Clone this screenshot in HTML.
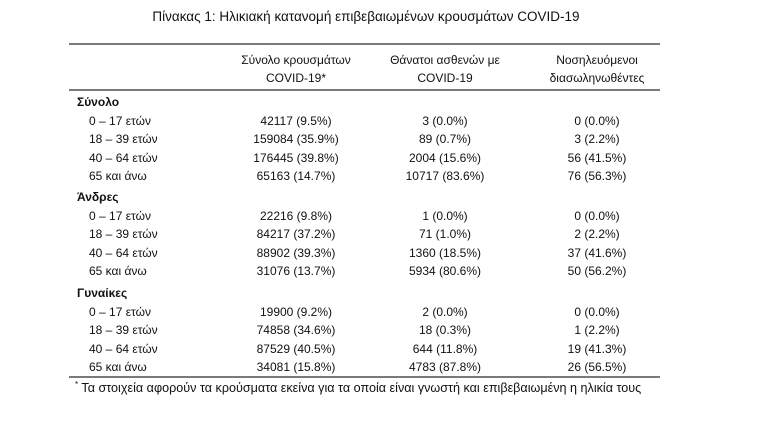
<!DOCTYPE html>
<html><head><meta charset="utf-8"><style>
body{margin:0;width:769px;height:423px;background:#fff;position:relative;overflow:hidden;font-family:"Liberation Sans","DejaVu Sans",sans-serif;color:#111;}
.t{position:absolute;white-space:nowrap;font-size:12px;line-height:14px;}
.c{transform:translateX(-50%);}
.b{font-weight:bold;}
.ln{position:absolute;left:69px;width:591px;height:2px;background:#7a7a7a;}
</style></head><body>
<div class="t c" style="left:366px;top:9px;font-size:13.5px;line-height:16px">Πίνακας 1: Ηλικιακή κατανομή επιβεβαιωμένων κρουσμάτων COVID-19</div>
<div class="ln" style="top:43px"></div>
<div class="ln" style="top:89px"></div>
<div class="ln" style="top:376px"></div>
<div class="t c" style="left:296px;top:51px;text-align:center;line-height:18px">Σύνολο κρουσμάτων<br>COVID-19*</div>
<div class="t c" style="left:445px;top:51px;text-align:center;line-height:18px">Θάνατοι ασθενών με<br>COVID-19</div>
<div class="t c" style="left:597px;top:51px;text-align:center;line-height:18px">Νοσηλευόμενοι<br>διασωληνωθέντες</div>
<div id="rows"></div>
<div class="t" style="left:75px;top:378px;font-size:12.6px"><sup style="font-size:8px">*</sup> Τα στοιχεία αφορούν τα κρούσματα εκείνα για τα οποία είναι γνωστή και επιβεβαιωμένη η ηλικία τους</div>
<script>
var d=[["Σύνολο",95,[["0 – 17 ετών","42117 (9.5%)","3 (0.0%)","0 (0.0%)"],["18 – 39 ετών","159084 (35.9%)","89 (0.7%)","3 (2.2%)"],["40 – 64 ετών","176445 (39.8%)","2004 (15.6%)","56 (41.5%)"],["65 και άνω","65163 (14.7%)","10717 (83.6%)","76 (56.3%)"]]],
["Άνδρες",190,[["0 – 17 ετών","22216 (9.8%)","1 (0.0%)","0 (0.0%)"],["18 – 39 ετών","84217 (37.2%)","71 (1.0%)","2 (2.2%)"],["40 – 64 ετών","88902 (39.3%)","1360 (18.5%)","37 (41.6%)"],["65 και άνω","31076 (13.7%)","5934 (80.6%)","50 (56.2%)"]]],
["Γυναίκες",286,[["0 – 17 ετών","19900 (9.2%)","2 (0.0%)","0 (0.0%)"],["18 – 39 ετών","74858 (34.6%)","18 (0.3%)","1 (2.2%)"],["40 – 64 ετών","87529 (40.5%)","644 (11.8%)","19 (41.3%)"],["65 και άνω","34081 (15.8%)","4783 (87.8%)","26 (56.5%)"]]]];
var h="";d.forEach(function(s){h+='<div class="t b" style="left:77px;top:'+s[1]+'px">'+s[0]+'</div>';
s[2].forEach(function(r,i){var y=s[1]+18.6*(i+1);h+='<div class="t" style="left:89px;top:'+y+'px">'+r[0]+'</div>'+
'<div class="t c" style="left:296px;top:'+y+'px">'+r[1]+'</div><div class="t c" style="left:445px;top:'+y+'px">'+r[2]+'</div><div class="t c" style="left:597px;top:'+y+'px">'+r[3]+'</div>';});});
document.getElementById("rows").innerHTML=h;
</script>
</body></html>
